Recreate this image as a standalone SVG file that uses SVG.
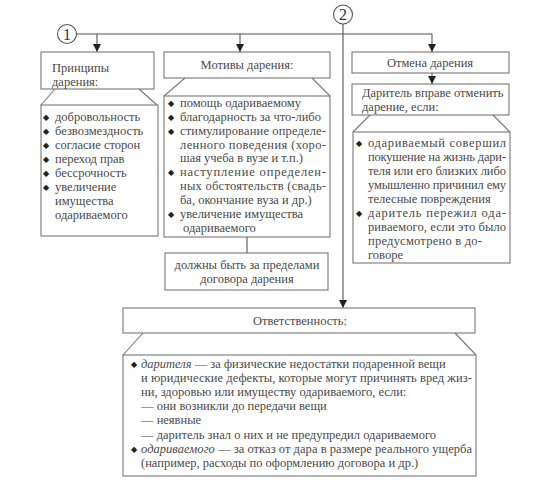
<svg xmlns="http://www.w3.org/2000/svg" width="552" height="486" viewBox="0 0 552 486">
<defs>
<marker id="ah" viewBox="0 0 8 10" refX="8" refY="5" markerWidth="8" markerHeight="10" markerUnits="userSpaceOnUse" orient="auto">
<path d="M0,1 L8,5 L0,9 Z" fill="#222"/>
</marker>
</defs>
<style>
.box{fill:#fff;stroke:#777;stroke-width:1.1}
.ln{fill:none;stroke:#777;stroke-width:1.1}
.cn{fill:none;stroke:#555;stroke-width:1.1}
.b{font-family:'DejaVu Sans',sans-serif;font-size:8px;fill:#222}
</style>
<rect width="552" height="486" fill="#fff"/>
<g id="connectors">
<polyline class="cn" points="76,34 432,34"/>
<line class="cn" x1="97" y1="34" x2="97" y2="52" marker-end="url(#ah)"/>
<line class="cn" x1="240" y1="34" x2="240" y2="52" marker-end="url(#ah)"/>
<line class="cn" x1="432" y1="34" x2="432" y2="52" marker-end="url(#ah)"/>
<line class="cn" x1="343" y1="24" x2="343" y2="308" marker-end="url(#ah)"/>
<line class="cn" x1="432" y1="73" x2="432" y2="84" marker-end="url(#ah)"/>
<line class="cn" x1="247" y1="237" x2="247" y2="253"/>
</g>
<g id="circle1" font-family="Liberation Serif, serif" font-size="16" fill="#333">
<circle cx="67" cy="34" r="9.5" fill="#fff" stroke="#555" stroke-width="1.1"/>
<text x="67" y="39.5" text-anchor="middle">1</text>
</g>
<g id="circle2" font-family="Liberation Serif, serif" font-size="16" fill="#333">
<circle cx="343" cy="14.5" r="9.5" fill="#fff" stroke="#555" stroke-width="1.1"/>
<text x="343" y="20" text-anchor="middle">2</text>
</g>
<g id="principles" font-family="Liberation Serif, serif" font-size="12.5" fill="#4a4a4a">
<rect class="box" x="41" y="52" width="113" height="37"/>
<text x="52" y="72">Принципы</text>
<text x="52" y="86">дарения:</text>
<polyline class="ln" points="55,89 41,105"/>
<polyline class="ln" points="139,89 157,105"/>
<rect class="box" x="41" y="105" width="117" height="131"/>
<text class="b" x="43" y="120">◆</text><text x="55" y="121">добровольность</text>
<text class="b" x="43" y="134">◆</text><text x="55" y="135">безвозмездность</text>
<text class="b" x="43" y="148">◆</text><text x="55" y="149">согласие сторон</text>
<text class="b" x="43" y="162">◆</text><text x="55" y="163">переход прав</text>
<text class="b" x="43" y="176">◆</text><text x="55" y="177">бессрочность</text>
<text class="b" x="43" y="190">◆</text><text x="55" y="191">увеличение</text>
<text x="55" y="205">имущества</text>
<text x="55" y="219">одариваемого</text>
</g>
<g id="motives" font-family="Liberation Serif, serif" font-size="12.5" fill="#4a4a4a">
<rect class="box" x="164" y="52" width="166" height="26"/>
<text x="247" y="69" text-anchor="middle">Мотивы дарения:</text>
<polyline class="ln" points="185,78 164,96"/>
<polyline class="ln" points="312,78 330,96"/>
<rect class="box" x="164" y="96" width="166" height="141"/>
<text class="b" x="168" y="106">◆</text><text x="180" y="107">помощь одариваемому</text>
<text class="b" x="168" y="120">◆</text><text x="180" y="121">благодарность за что-либо</text>
<text class="b" x="168" y="134">◆</text><text x="180" y="135" textLength="146" lengthAdjust="spacing">стимулирование определе-</text>
<text x="180" y="149" textLength="146" lengthAdjust="spacing">ленного поведения (хоро-</text>
<text x="180" y="162">шая учеба в вузе и т.п.)</text>
<text class="b" x="168" y="175">◆</text><text x="180" y="176" textLength="146" lengthAdjust="spacing">наступление определен-</text>
<text x="180" y="190" textLength="146" lengthAdjust="spacing">ных обстоятельств (свадь-</text>
<text x="180" y="204">ба, окончание вуза и др.)</text>
<text class="b" x="168" y="217">◆</text><text x="180" y="218">увеличение имущества</text>
<text x="183" y="232">одариваемого</text>
</g>
<g id="outside" font-family="Liberation Serif, serif" font-size="12.5" fill="#4a4a4a">
<rect class="box" x="165" y="253" width="163" height="37"/>
<text x="247" y="269" text-anchor="middle">должны быть за пределами</text>
<text x="247" y="283" text-anchor="middle">договора дарения</text>
</g>
<g id="revocation" font-family="Liberation Serif, serif" font-size="12.5" fill="#4a4a4a">
<rect class="box" x="352" y="52" width="157" height="21"/>
<text x="430" y="67" text-anchor="middle">Отмена дарения</text>
</g>
<g id="donor-right" font-family="Liberation Serif, serif" font-size="12.5" fill="#4a4a4a">
<rect class="box" x="352" y="84" width="157" height="31"/>
<text x="362" y="97">Даритель вправе отменить</text>
<text x="362" y="111">дарение, если:</text>
<polyline class="ln" points="370,115 353,132"/>
<polyline class="ln" points="493,115 510,132"/>
<rect class="box" x="353" y="132" width="157" height="131"/>
<text class="b" x="356" y="146">◆</text><text x="368" y="147" textLength="138" lengthAdjust="spacing">одариваемый совершил</text>
<text x="368" y="161" textLength="138" lengthAdjust="spacing">покушение на жизнь дари-</text>
<text x="368" y="175" textLength="138" lengthAdjust="spacing">теля или его близких либо</text>
<text x="368" y="189" textLength="138" lengthAdjust="spacing">умышленно причинил ему</text>
<text x="368" y="203">телесные повреждения</text>
<text class="b" x="356" y="216">◆</text><text x="368" y="217" textLength="138" lengthAdjust="spacing">даритель пережил ода-</text>
<text x="368" y="231" textLength="138" lengthAdjust="spacing">риваемого, если это было</text>
<text x="368" y="245" textLength="114" lengthAdjust="spacing">предусмотрено в до-</text>
<text x="368" y="259">говоре</text>
</g>
<g id="liability" font-family="Liberation Serif, serif" font-size="12.5" fill="#4a4a4a">
<rect class="box" x="123" y="308" width="352" height="25"/>
<text x="300" y="325" text-anchor="middle">Ответственность:</text>
<polyline class="ln" points="143,333 123,355"/>
<polyline class="ln" points="455,333 476,355"/>
<rect class="box" x="123" y="355" width="353" height="121"/>
<text class="b" x="131" y="367">◆</text><text x="141" y="368"><tspan font-style="italic">дарителя</tspan> — за физические недостатки подаренной вещи</text>
<text x="141" y="382" textLength="331" lengthAdjust="spacing">и юридические дефекты, которые могут причинять вред жиз-</text>
<text x="141" y="396">ни, здоровью или имуществу одариваемого, если:</text>
<text x="141" y="410">— они возникли до передачи вещи</text>
<text x="141" y="424">— неявные</text>
<text x="141" y="439">— даритель знал о них и не предупредил одариваемого</text>
<text class="b" x="131" y="452">◆</text><text x="141" y="453" textLength="331" lengthAdjust="spacing"><tspan font-style="italic">одариваемого</tspan> — за отказ от дара в размере реального ущерба</text>
<text x="141" y="467">(например, расходы по оформлению договора и др.)</text>
</g>
</svg>
